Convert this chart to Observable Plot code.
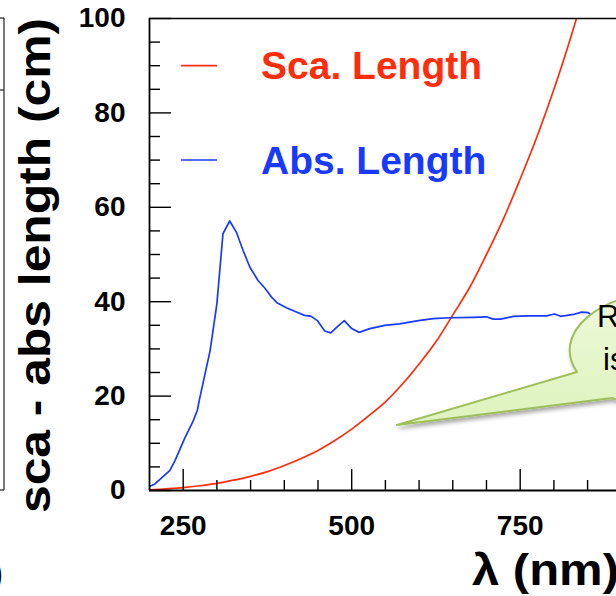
<!DOCTYPE html>
<html>
<head>
<meta charset="utf-8">
<script src="https://cdn.jsdelivr.net/npm/d3@7"></script>
<script src="https://cdn.jsdelivr.net/npm/@observablehq/plot@0.6"></script>
<style>
  html, body { margin: 0; padding: 0; background: #fff; overflow: hidden; width: 616px; height: 596px; }
  #chart svg { display: block; }
</style>
</head>
<body>
<div id="chart"></div>
<script>
// ---- data ----
const absWavelength = [200, 208, 230, 238, 252, 265, 271, 274, 290, 300, 309, 319, 329, 339, 349, 361, 371, 381, 389, 403, 418, 430, 440, 449, 460, 469, 478, 489, 500, 511, 527, 549, 571, 599, 621, 646, 680, 700, 710, 721, 740, 762, 789, 801, 810, 829, 841, 851, 862];
const absLength     = [0.85, 1.4, 4.2, 6.4, 11.0, 14.8, 17.0, 19.2, 29.7, 39.6, 54.4, 57.1, 54.7, 50.8, 47.3, 44.5, 42.9, 41.0, 39.8, 38.7, 37.8, 37.1, 36.9, 36.0, 33.8, 33.4, 34.6, 36.0, 34.3, 33.5, 34.3, 35.0, 35.3, 36.0, 36.4, 36.6, 36.7, 36.8, 36.3, 36.3, 36.9, 37.0, 37.0, 37.4, 36.9, 37.3, 37.8, 37.7, 36.4];

const scaWavelength = [200, 225, 250, 275, 300, 325, 350, 375, 400, 425, 450, 475, 500, 525, 550, 575, 600, 625, 650, 675, 700, 725, 750, 775, 800, 825, 850];
const scaLength     = [0.15, 0.35, 0.6, 1.0, 1.5, 2.2, 3.0, 4.0, 5.3, 6.8, 8.5, 10.6, 13.0, 15.8, 18.8, 22.5, 26.8, 31.5, 37.2, 43.0, 50.0, 57.5, 66.0, 75.0, 85.0, 96.0, 108.0];

const xMajorTicks = [250, 500, 750];
const xMinorTicks = [300, 350, 400, 450, 550, 600, 650, 700, 800, 850];
const yMajorTicks = [0, 20, 40, 60, 80, 100];
const yMinorTicks = [5, 10, 15, 25, 30, 35, 45, 50, 55, 65, 70, 75, 85, 90, 95];

const seriesNames = ["Sca. Length", "Abs. Length"];
const xTitle = "λ (nm)";
const yTitle = "sca - abs length (cm)";
const calloutLines = ["Rayleigh", "is"];

// ---- build tables ----
const absData = absWavelength.map((w, i) => ({wl: w, len: absLength[i]}));
const scaData = scaWavelength.map((w, i) => ({wl: w, len: scaLength[i]}));

const RED = "#ff2d0a";
const BLUE = "#1839ff";
const FONT = "'Liberation Sans', Arial, Helvetica, sans-serif";

const svg = Plot.plot({
  width: 616,
  height: 596,
  marginLeft: 149,
  marginRight: 0,
  marginTop: 18,
  marginBottom: 106,
  x: {domain: [200, 892.9]},
  y: {domain: [0, 100]},
  style: {fontFamily: FONT, background: "#fff", color: "#000"},
  marks: [
    Plot.lineY(scaData, {x: "wl", y: "len", stroke: RED, strokeWidth: 1.7, curve: "catmull-rom", clip: true}),
    Plot.lineY(absData, {x: "wl", y: "len", stroke: BLUE, strokeWidth: 1.7, clip: true}),
    Plot.ruleX(xMinorTicks, {insetTop: 462, stroke: "#000", strokeWidth: 1.4}),
    Plot.ruleX(xMajorTicks, {insetTop: 451, stroke: "#000", strokeWidth: 1.4}),
    Plot.ruleY(yMinorTicks, {insetRight: 456, stroke: "#000", strokeWidth: 1.4}),
    Plot.ruleY(yMajorTicks, {insetRight: 445, stroke: "#000", strokeWidth: 1.4}),
    Plot.ruleY([0], {stroke: "#000", strokeWidth: 1.8}),
    Plot.ruleY([100], {stroke: "#000", strokeWidth: 1.4}),
    Plot.ruleX([200], {stroke: "#000", strokeWidth: 1.8}),
    Plot.axisX(xMajorTicks, {tickSize: 0, tickPadding: 25, fontSize: 28, fontWeight: "bold", label: null, tickFormat: d => String(d)}),
    Plot.axisY(yMajorTicks, {tickSize: 0, tickPadding: 24, fontSize: 28, fontWeight: "bold", label: null, tickFormat: d => String(d)})
  ]
});
document.getElementById("chart").appendChild(svg);

const s = d3.select(svg);

// remnants of the neighbouring chart on the left edge
const rem = s.append("g").attr("stroke", "#222").attr("stroke-width", 1.2).attr("fill", "none");
rem.append("line").attr("x1", 4).attr("x2", 4).attr("y1", 18).attr("y2", 490);
rem.append("line").attr("x1", 0).attr("x2", 4).attr("y1", 18).attr("y2", 18);
rem.append("line").attr("x1", 0).attr("x2", 4).attr("y1", 90).attr("y2", 90);
rem.append("line").attr("x1", 0).attr("x2", 4).attr("y1", 490).attr("y2", 490);
s.append("text").attr("x", -8).attr("y", 584).attr("text-anchor", "start")
  .attr("font-size", 32).attr("font-weight", "bold").attr("font-family", FONT).text(")");

// y axis title
s.append("text")
  .attr("transform", "translate(50,265.5) rotate(-90)")
  .attr("text-anchor", "middle")
  .attr("font-size", 44).attr("font-weight", "bold").attr("font-family", FONT)
  .attr("textLength", 495).attr("lengthAdjust", "spacingAndGlyphs")
  .attr("fill", "#000")
  .text(yTitle);

// x axis title
s.append("text")
  .attr("x", 472).attr("y", 585).attr("text-anchor", "start")
  .attr("font-size", 44).attr("font-weight", "bold").attr("font-family", FONT)
  .attr("textLength", 147).attr("lengthAdjust", "spacingAndGlyphs")
  .attr("fill", "#000")
  .text(xTitle);

// legend
const legend = [{name: seriesNames[0], color: RED, y: 65.7, base: 79}, {name: seriesNames[1], color: BLUE, y: 160, base: 174}];
for (const l of legend) {
  s.append("line").attr("x1", 181).attr("x2", 217).attr("y1", l.y).attr("y2", l.y)
    .attr("stroke", l.color).attr("stroke-width", 1.7);
  s.append("text").attr("x", 261).attr("y", l.base).attr("text-anchor", "start")
    .attr("font-size", 39).attr("font-weight", "bold").attr("font-family", FONT)
    .attr("fill", l.color).text(l.name);
}

// callout bubble
const defs = s.append("defs");
const f = defs.append("filter").attr("id", "shadow").attr("x", "-20%").attr("y", "-20%").attr("width", "140%").attr("height", "140%");
f.append("feDropShadow").attr("dx", 2).attr("dy", 3).attr("stdDeviation", 2).attr("flood-color", "#000").attr("flood-opacity", 0.35);
const grad = defs.append("linearGradient").attr("id", "bubbleFill").attr("x1", 0).attr("y1", 0).attr("x2", 0).attr("y2", 1);
grad.append("stop").attr("offset", "0%").attr("stop-color", "#eef9da");
grad.append("stop").attr("offset", "100%").attr("stop-color", "#ddf3bd");
s.append("path")
  .attr("d", "M 577 372 L 397 425 L 612 398 A 107 60 0 1 0 577 372 Z")
  .attr("fill", "url(#bubbleFill)").attr("stroke", "#9fbf5a").attr("stroke-width", 2)
  .attr("stroke-linejoin", "round")
  .attr("filter", "url(#shadow)");
s.append("text").attr("x", 597).attr("y", 327).attr("text-anchor", "start")
  .attr("font-size", 31).attr("font-family", FONT).attr("fill", "#000").text(calloutLines[0]);
s.append("text").attr("x", 603).attr("y", 370).attr("text-anchor", "start")
  .attr("font-size", 31).attr("font-family", FONT).attr("fill", "#000").text(calloutLines[1]);
</script>
</body>
</html>
